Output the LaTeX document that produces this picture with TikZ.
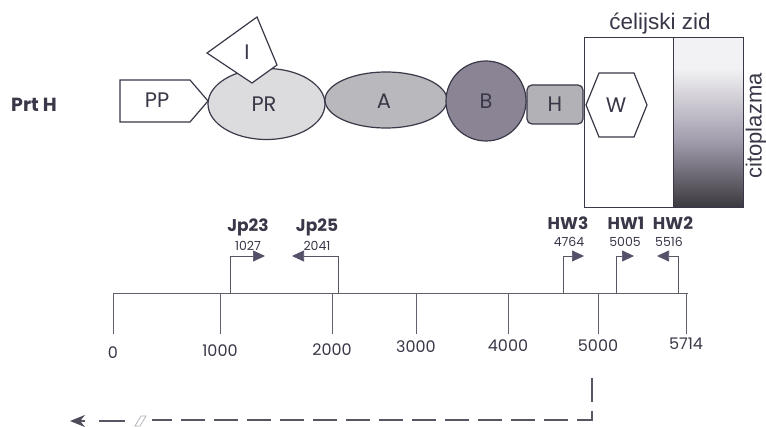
\documentclass[tikz,border=0pt]{standalone}
\usepackage{fontspec}
\setmainfont{Poppins}
\newfontfamily\arialf{Liberation Sans}
\usetikzlibrary{shapes.geometric,arrows.meta}
\definecolor{ink}{HTML}{3A3848}
\definecolor{tipc}{HTML}{55506A}
\definecolor{prfill}{HTML}{DCDCDE}
\definecolor{afill}{HTML}{B9B9BD}
\definecolor{bfill}{HTML}{8B8495}
\definecolor{hfill}{HTML}{B2B2B6}
\definecolor{cytotop}{HTML}{F2F2F4}
\definecolor{cytomid}{HTML}{A39DAD}
\definecolor{cytobot}{HTML}{3A383E}
\begin{document}
\begin{tikzpicture}[x=1pt,y=-1pt,
  every node/.style={text=ink},
  outl/.style={draw=ink, line width=1.2pt},
  lbl/.style={font=\fontsize{21}{21}\selectfont},
  primer/.style={draw=ink!85, line width=0.7pt, -{Triangle[length=12pt,width=11pt,color=tipc]}},
  plab/.style={font=\fontsize{17}{17}\selectfont\bfseries},
  pnum/.style={font=\fontsize{12.5}{12.5}\selectfont},
  tlab/.style={font=\fontsize{16}{16}\selectfont},
  tick/.style={draw=ink!80, line width=0.6pt}]
\useasboundingbox (0,0) rectangle (766,427);
\fill[white] (0,0) rectangle (766,427);

% label
\node[font=\fontsize{19}{19}\selectfont\bfseries] (prth) at (34,105) {Prt H};

% PP pentagon
\draw[outl, fill=white] (120,80) -- (190,80) -- (208,101) -- (190,122) -- (120,122) -- cycle;
\node[lbl] (PP) at (157,100) {PP};

% PR ellipse
\node[ellipse, outl, fill=prfill, minimum width=117pt, minimum height=71pt] (PR) at (266.5,104) {};
\node[lbl] (PRt) at (264,104) {PR};

% I shape
\draw[outl, fill=white] (207,53) -- (257,17) -- (277,65) -- (252,83) -- cycle;
\node[lbl] (I) at (247,52) {I};

% A ellipse
\node[ellipse, outl, fill=afill, minimum width=122pt, minimum height=56pt] (A) at (386,100) {};
\node[lbl] (At) at (384,101) {A};

% B circle
\node[circle, outl, fill=bfill, minimum size=80pt] (B) at (486,101) {};
\node[lbl] (Bt) at (B.center) {B};

% H rounded box
\node[outl, fill=hfill, rounded corners=5pt, minimum width=56pt, minimum height=39pt] (H) at (555,104.5) {};
\node[lbl] (Ht) at (H.center) {H};

% cell wall and cytoplasm
\fill[cytotop] (673,38) rectangle (743,68);
\shade[top color=cytotop, bottom color=cytomid] (673,68) rectangle (743,140);
\shade[top color=cytomid, bottom color=cytobot] (673,140) rectangle (743,208);
\draw[draw=ink, line width=1pt] (584,38) rectangle (743,208);
\draw[draw=ink, line width=1pt] (673,38) -- (673,208);
\node[font=\arialf\fontsize{22.5}{22.5}\selectfont] (zid) at (660,24) {ćelijski zid};
\node[font=\arialf\fontsize{22}{22}\selectfont, rotate=90] (cito) at (756,126) {citoplazma};

% W hexagon
\draw[outl, fill=white] (586,105) -- (599,73) -- (634,73) -- (647,105) -- (634,137) -- (599,137) -- cycle;
\node[lbl] (W) at (616,105) {W};

% axis
\coordinate (ax0) at (113,293);
\coordinate (ax1) at (688,293);
\draw[tick] (ax0) -- (ax1);
\foreach \x/\lab/\ly in {113/0/353, 220/1000/351, 332/2000/350, 416/3000/347, 508/4000/346, 598/5000/346, 686/5714/344}{
  \coordinate (t\lab) at (\x,293);
  \node[tlab] (l\lab) at (\x,\ly) {\lab};
  \draw[tick] (t\lab) -- ++(0,41);
}

% primers
\coordinate (p23) at (230,293); \coordinate (p23tip) at (265,256);
\coordinate (p25) at (338,293); \coordinate (p25tip) at (292,256);
\coordinate (hw3) at (563,293); \coordinate (hw3tip) at (584,256);
\coordinate (hw1) at (616,293); \coordinate (hw1tip) at (634,256);
\coordinate (hw2) at (678,293); \coordinate (hw2tip) at (657,256);
\draw[primer] (p23) |- (p23tip);
\draw[primer] (p25) |- (p25tip);
\draw[primer] (hw3) |- (hw3tip);
\draw[primer] (hw1) |- (hw1tip);
\draw[primer] (hw2) |- (hw2tip);
\node[plab] (Lj23) at (248,227) {Jp23};
\node[pnum] (Nj23) at (248,246) {1027};
\node[plab] (Lj25) at (317,227) {Jp25};
\node[pnum] (Nj25) at (317,246) {2041};
\node[plab] (Lh3) at (568,223) {HW3};
\node[pnum] (Nh3) at (569,242) {4764};
\node[plab] (Lh1) at (626,223) {HW1};
\node[pnum] (Nh1) at (625,242) {5005};
\node[plab] (Lh2) at (673,223) {HW2};
\node[pnum] (Nh2) at (669,242) {5516};

% bottom dashed line
\coordinate (d0) at (592,378);
\coordinate (d1) at (592,420);
\coordinate (d2) at (152,420);
\draw[draw=ink!85, line width=1.2pt, dash pattern=on 24pt off 9pt] (d0) -- (d1) -- (d2);
\coordinate (s0) at (125,421);
\coordinate (s1) at (70,421);
\draw[draw=ink!85, line width=1.3pt, dash pattern=on 26pt off 14pt, -{Stealth[length=15pt,width=12pt,color=ink!90]}] (s0) -- (s1);
\draw[draw=ink!40, line width=0.7pt] (135,426) -- (141,416) -- (146,416) -- (140,426) -- cycle;
\end{tikzpicture}
\end{document}
